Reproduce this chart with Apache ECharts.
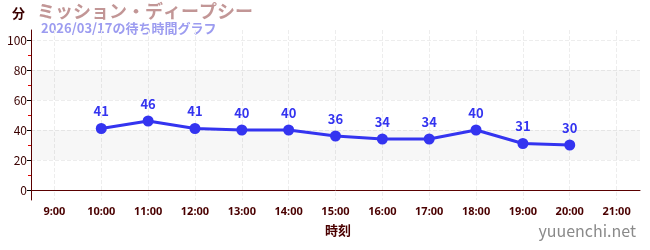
<!DOCTYPE html>
<html><head><meta charset="utf-8">
<script src="https://cdn.jsdelivr.net/npm/echarts@6/dist/echarts.min.js"></script>
<style>html,body{margin:0;padding:0;background:#fff}#c{width:650px;height:250px}</style>
</head><body><div id="c"></div>
<script>
const categories = ['9:00','10:00','11:00','12:00','13:00','14:00','15:00','16:00','17:00','18:00','19:00','20:00','21:00'];
const waitTimes = [null,41,46,41,40,40,36,34,34,40,31,30,null];
const yTickLabels = [0,20,40,60,80,100];
const yMinorTicks = [10,30,50,70,90];
const shadedBands = [[20,40],[60,80]];

const chart = echarts.init(document.getElementById('c'), null, {renderer:'canvas'});
const font = '"Noto Sans CJK JP","Noto Sans",sans-serif';
chart.setOption({
  animation:false,
  textStyle:{fontFamily:font},
  grid:{left:31,right:10,top:30,bottom:50,containLabel:false},
  graphic:[
    {type:'text',left:37,top:2,style:{text:'ミッション・ディープシー',fill:'#c29696',font:'bold 18px '+font}},
    {type:'text',left:41,top:22,style:{text:'2026/03/17の待ち時間グラフ',fill:'#9c9cf0',font:'bold 13px '+font}},
    {type:'text',left:12,top:7,style:{text:'分',fill:'#3a0000',font:'bold 13px '+font}},
    {type:'text',left:325,top:224,style:{text:'時刻',fill:'#4a0000',font:'bold 13px '+font}},
    {type:'text',right:14,top:223,style:{text:'yuuenchi.net',fill:'#8a8a8a',font:'16px '+font}}
  ],
  xAxis:{
    type:'category',data:categories,boundaryGap:true,
    axisLine:{lineStyle:{color:'#5a0000',width:1}},
    axisTick:{alignWithLabel:true,length:4,lineStyle:{color:'#888'}},
    axisLabel:{color:'#4a0000',fontSize:11,fontWeight:'bold',margin:6,interval:0,fontFamily:'"Liberation Sans Narrow","Noto Sans",sans-serif'},
    splitLine:{show:true,alignWithLabel:true,lineStyle:{color:'#ededed',type:'dashed'}}
  },
  yAxis:[{
    type:'value',min:-6.67,max:106.67,
    axisLine:{show:true,lineStyle:{color:'#5a0000'}},
    axisTick:{show:true,customValues:yTickLabels,length:4,lineStyle:{color:'#000'}},
    axisLabel:{customValues:yTickLabels,color:'#3a0000',fontSize:12,margin:4},
    splitLine:{show:true,lineStyle:{color:'#ededed',type:'dashed'}}
  },{
    type:'value',min:-6.67,max:106.67,position:'left',
    axisLine:{show:false},
    axisTick:{show:true,customValues:yMinorTicks,length:3,lineStyle:{color:'#dd0000'}},
    axisLabel:{show:false},
    splitLine:{show:false}
  }],
  series:[{
    type:'line',data:waitTimes,yAxisIndex:0,
    symbol:'circle',symbolSize:11,
    lineStyle:{color:'#3434f0',width:3},
    itemStyle:{color:'#3434f0'},
    label:{show:true,position:'top',color:'#3434f0',fontSize:13,fontWeight:'bold',distance:5},
    markArea:{silent:true,itemStyle:{color:'rgba(0,0,0,0.03)'},
      data:shadedBands.map(b=>[{yAxis:b[0]},{yAxis:b[1]}])}
  }]
});
</script></body></html>
